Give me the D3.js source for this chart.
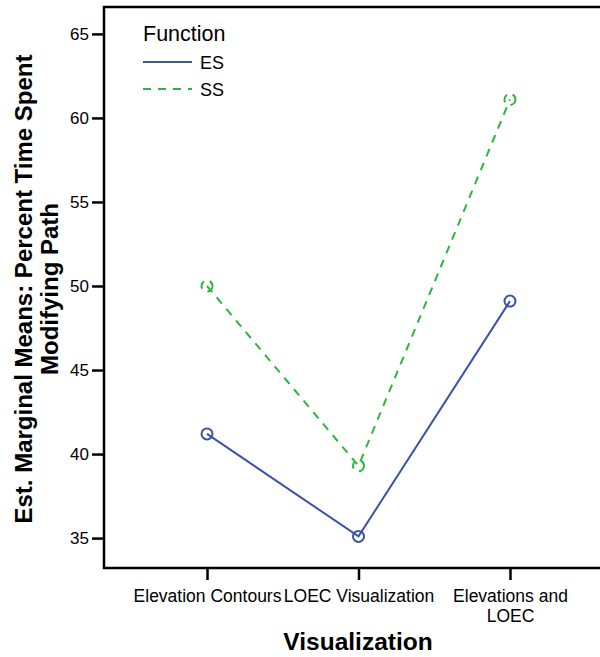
<!DOCTYPE html>
<html>
<head>
<meta charset="utf-8">
<script src="https://cdn.jsdelivr.net/npm/d3@7"></script>
<style>
html,body{margin:0;padding:0;background:#fff;}
svg{display:block;font-family:"Liberation Sans",Arial,sans-serif;}
</style>
</head>
<body>
<svg id="chart" width="600" height="657"></svg>
<script>
const categories = ["Elevation Contours", "LOEC Visualization", "Elevations and LOEC"];
const categoryLabels = [["Elevation Contours"], ["LOEC Visualization"], ["Elevations and", "LOEC"]];
const seriesNames = ["ES", "SS"];
const esValues = [41.2, 35.1, 49.1];
const ssValues = [50.0, 39.3, 61.1];
const yTicks = [35, 40, 45, 50, 55, 60, 65];

(function() {
const colors = {ES: "#3C54A5", SS: "#2DB63E"};
const svg = d3.select("#chart");
const pLeft = 104, pTop = 7, pBottom = 568, pRight = 613;

const x = d3.scalePoint().domain(categories).range([pLeft, pRight]).padding(0.68);
const y = d3.scaleLinear().domain([33.22, 66.6]).range([pBottom, pTop]);

// frame
svg.append("rect").attr("x", pLeft).attr("y", pTop).attr("width", pRight - pLeft).attr("height", pBottom - pTop)
  .attr("fill", "none").attr("stroke", "#000").attr("stroke-width", 2.5);

// y axis
const yAxis = svg.append("g").attr("transform", `translate(${pLeft},0)`)
  .call(d3.axisLeft(y).tickValues(yTicks).tickSize(12).tickPadding(3));
yAxis.select(".domain").remove();
yAxis.selectAll(".tick line").attr("stroke", "#000").attr("stroke-width", 2.5);
yAxis.selectAll(".tick text").attr("font-size", 17).attr("fill", "#000")
  .attr("font-family", "Liberation Sans, Arial, sans-serif");

// x axis
const xAxis = svg.append("g").attr("transform", `translate(0,${pBottom})`)
  .call(d3.axisBottom(x).tickSize(12).tickFormat(""));
xAxis.select(".domain").remove();
xAxis.selectAll(".tick line").attr("stroke", "#000").attr("stroke-width", 2.5);
xAxis.selectAll(".tick").each(function(d, i) {
  const t = d3.select(this).append("text").attr("fill", "#000").attr("font-size", 17.5)
    .attr("text-anchor", "middle").attr("font-family", "Liberation Sans, Arial, sans-serif");
  categoryLabels[i].forEach((line, j) => {
    t.append("tspan").attr("x", 0).attr("y", 34 + j * 20).text(line);
  });
});

// axis titles
svg.append("text").attr("x", 358).attr("y", 650).attr("text-anchor", "middle")
  .attr("font-size", 24.5).attr("font-weight", "bold").text("Visualization");
const yt = svg.append("text").attr("transform", "translate(0,289) rotate(-90)")
  .attr("text-anchor", "middle").attr("font-size", 24).attr("font-weight", "bold");
yt.append("tspan").attr("x", 0).attr("y", 32).text("Est. Marginal Means: Percent Time Spent");
yt.append("tspan").attr("x", 0).attr("y", 58).text("Modifying Path");

// series
const series = [
  {name: seriesNames[0], values: esValues, dash: null},
  {name: seriesNames[1], values: ssValues, dash: "8,7"}
];
const line = d3.line().x((d, i) => x(categories[i])).y(d => y(d));
series.forEach(s => {
  svg.append("path").datum(s.values).attr("d", line).attr("fill", "none")
    .attr("stroke", colors[s.name]).attr("stroke-width", 2)
    .attr("stroke-dasharray", s.dash);
  svg.selectAll(null).data(s.values).enter().append("circle")
    .attr("cx", (d, i) => x(categories[i])).attr("cy", d => y(d)).attr("r", 5.5)
    .attr("fill", "none").attr("stroke", colors[s.name]).attr("stroke-width", 2)
    .attr("stroke-dasharray", s.name === "SS" ? "8,6" : null);
});

// legend
svg.append("text").attr("x", 143).attr("y", 41).attr("font-size", 21.5).text("Function");
series.forEach((s, i) => {
  const ly = 62 + i * 27;
  svg.append("line").attr("x1", 143).attr("x2", 192).attr("y1", ly).attr("y2", ly)
    .attr("stroke", colors[s.name]).attr("stroke-width", 2).attr("stroke-dasharray", s.dash);
  svg.append("text").attr("x", 200).attr("y", ly + 6.5).attr("font-size", 18).text(s.name);
});
})();
</script>
</body>
</html>
